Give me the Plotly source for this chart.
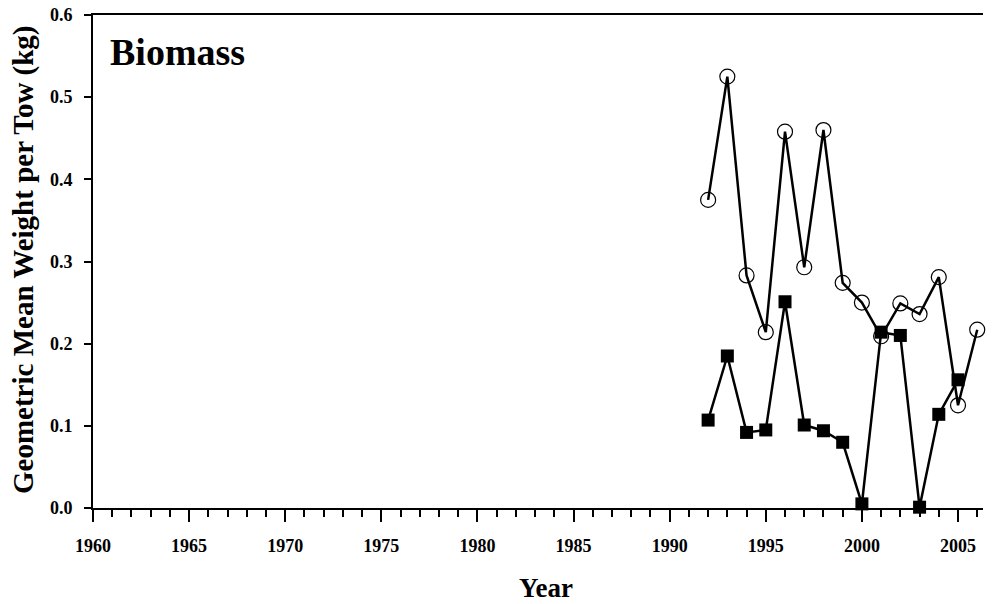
import plotly.graph_objects as go

years_circle = [1992, 1993, 1994, 1995, 1996, 1997, 1998, 1999, 2000, 2001, 2002, 2003, 2004, 2005, 2006]
values_circle = [0.375, 0.525, 0.283, 0.214, 0.458, 0.293, 0.460, 0.274, 0.250, 0.209, 0.249, 0.236, 0.281, 0.125, 0.217]

years_square = [1992, 1993, 1994, 1995, 1996, 1997, 1998, 1999, 2000, 2001, 2002, 2003, 2004, 2005]
values_square = [0.107, 0.185, 0.092, 0.095, 0.251, 0.101, 0.094, 0.080, 0.005, 0.214, 0.210, 0.001, 0.114, 0.156]

x_ticks = [1960, 1965, 1970, 1975, 1980, 1985, 1990, 1995, 2000, 2005]
y_ticks = [0.0, 0.1, 0.2, 0.3, 0.4, 0.5, 0.6]

FONT = "Liberation Serif, Times New Roman, serif"

W, H = 993, 604
L, R, T, B = 93, 10, 15, 96

fig = go.Figure()
fig.add_trace(go.Scatter(
    x=years_circle, y=values_circle, mode="lines+markers",
    line=dict(color="black", width=2.5),
    marker=dict(symbol="circle-open", size=15, color="black", line=dict(width=1.2, color="black")),
    showlegend=False, cliponaxis=False))
fig.add_trace(go.Scatter(
    x=years_square, y=values_square, mode="lines+markers",
    line=dict(color="black", width=2.5),
    marker=dict(symbol="square", size=13, color="black"),
    showlegend=False, cliponaxis=False))

pw = W - L - R
ph = H - T - B
def px_to_paper_x(px):
    return (px - L) / pw
def px_to_paper_y(py):
    return (H - B - py) / ph

fig.update_layout(
    width=W, height=H,
    margin=dict(l=L, r=R, t=T, b=B, autoexpand=False),
    plot_bgcolor="white", paper_bgcolor="white",
    font=dict(family=FONT, color="black"),
    xaxis=dict(range=[1960, 2006.3], tickvals=x_ticks, ticktext=[str(v) for v in x_ticks],
               automargin=False,
               showgrid=False, zeroline=False, showline=True, linecolor="black", linewidth=2,
               mirror=True, ticks="outside", ticklen=12, tickwidth=2, tickcolor="black",
               minor=dict(dtick=1, tick0=1960, ticks="outside", ticklen=7, tickwidth=1.5, tickcolor="black", showgrid=False),
               tickfont=dict(family=FONT, size=18, color="black", weight="bold"),
               ticklabelstandoff=8, ticklabeloverflow="allow"),
    yaxis=dict(range=[0, 0.6], tickvals=y_ticks, ticktext=["%.1f" % v for v in y_ticks],
               automargin=False,
               showgrid=False, zeroline=False, showline=True, linecolor="black", linewidth=2,
               ticks="outside", ticklen=7, tickwidth=2, tickcolor="black",
               tickfont=dict(family=FONT, size=18, color="black", weight="bold"),
               ticklabelstandoff=8, ticklabeloverflow="allow"),
    annotations=[
        dict(text="<b>Year</b>", x=px_to_paper_x(546), y=px_to_paper_y(588), xref="paper", yref="paper",
             showarrow=False, font=dict(family=FONT, size=27, color="black"),
             xanchor="center", yanchor="middle"),
        dict(text="<b>Geometric Mean Weight per Tow (kg)</b>", x=px_to_paper_x(23), y=px_to_paper_y(260),
             xref="paper", yref="paper", showarrow=False, textangle=-90,
             font=dict(family=FONT, size=29, color="black"), xanchor="center", yanchor="middle"),
        dict(text="<b>Biomass</b>", x=px_to_paper_x(108), y=px_to_paper_y(52), xref="paper", yref="paper",
             showarrow=False, font=dict(family=FONT, size=38, color="black"),
             xanchor="left", yanchor="middle"),
    ],
)

fig.write_html("out.html", config={"displayModeBar": False},
               post_script="document.body.style.margin='0';")
